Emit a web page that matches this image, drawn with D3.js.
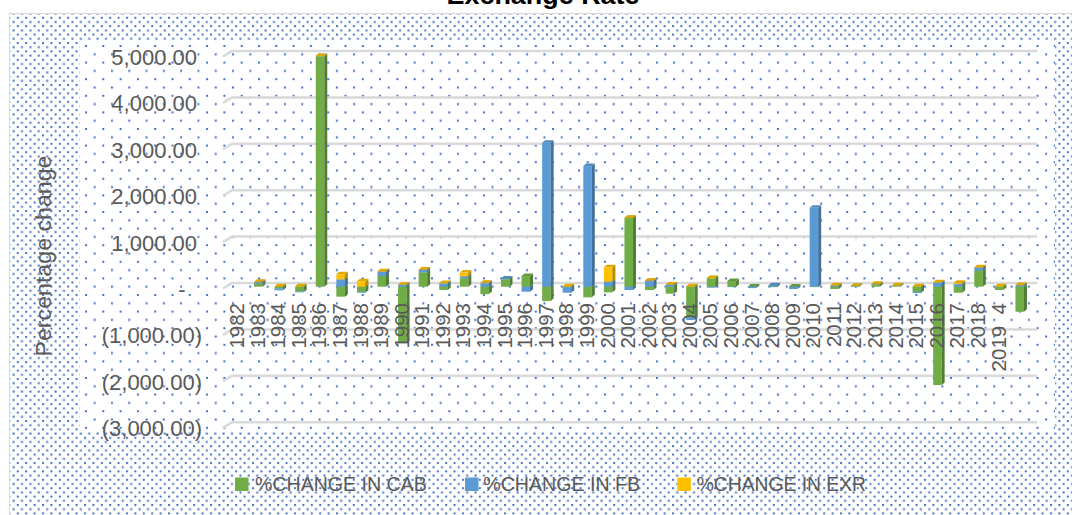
<!DOCTYPE html>
<html>
<head>
<meta charset="utf-8">
<script src="https://cdn.jsdelivr.net/npm/d3@7"></script>
<style>
  html, body { margin: 0; padding: 0; background: #fff; }
  svg { display: block; font-family: "Liberation Sans", Arial, sans-serif; }
</style>
</head>
<body>
<svg id="chart" width="1072" height="515"></svg>
<script>
// categories as printed under the bars (1982 is the base year, the last one has no label)
const categories = [
  "1982", "1983", "1984", "1985", "1986", "1987", "1988", "1989", "1990", "1991",
  "1992", "1993", "1994", "1995", "1996", "1997", "1998", "1999", "2000", "2001",
  "2002", "2003", "2004", "2005", "2006", "2007", "2008", "2009", "2010", "2011",
  "2012", "2013", "2014", "2015", "2016", "2017", "2018", "2019  4", ""
];

// percentage change
const cabChange = [
  0, 58, -35, -100, 4960, -215, -108, 230, -1220, 309,
  -70, 180, -160, 158, 230, -310, -10, -230, -122, 1480,
  -72, -150, -660, 180, 125, 5, -10, 5, -10, -50,
  10, 35, 15, -108, -2120, -130, 345, -72, -540
];
const fbChange = [
  0, 37, -43, -22, 5, 158, -22, 93, 36, 50,
  70, 40, 75, 20, -108, 3100, -120, 2600, 108, -72,
  122, 35, -57, -22, -5, -30, 30, -50, 1700, 20,
  5, 15, 10, -30, 86, 55, 65, 0, 30
];
const exrChange = [
  0, 10, 10, 8, 8, 108, 115, 10, 10, 10,
  12, 85, 10, 0, 0, 0, 12, 0, 310, 5,
  10, 10, 10, 10, 0, 0, 0, 0, 0, 10,
  8, 12, 8, 8, 10, 30, 10, 8, 8
];

const seriesKeys = ["cab", "fb", "exr"];
const seriesNames = ["%CHANGE IN CAB", "%CHANGE IN FB", "%CHANGE IN EXR"];
const seriesColors = ["#70AD47", "#5B9BD5", "#FFC000"];
const yTicks = [5000, 4000, 3000, 2000, 1000, 0, -1000, -2000, -3000];

const svg = d3.select("#chart");
const textColor = "#595959";
const gridColor = "#d9d9d9";
const dotColor = "#4472C4";

// --- background patterns (dense outside, sparse inside the plot area)
const defs = svg.append("defs");
const dense = defs.append("pattern").attr("id", "dense")
  .attr("patternUnits", "userSpaceOnUse").attr("width", 8.4).attr("height", 8.4);
dense.append("rect").attr("x", 0).attr("y", 0).attr("width", 2).attr("height", 2).attr("fill", dotColor);
dense.append("rect").attr("x", 4.2).attr("y", 4.2).attr("width", 2).attr("height", 2).attr("fill", dotColor);

const sparse = defs.append("pattern").attr("id", "sparse")
  .attr("patternUnits", "userSpaceOnUse").attr("width", 17.3).attr("height", 16.6)
  .attr("x", 85).attr("y", 45);
sparse.append("rect").attr("x", 0).attr("y", 0).attr("width", 2).attr("height", 2).attr("fill", dotColor);
sparse.append("rect").attr("x", 8.65).attr("y", 8.3).attr("width", 2).attr("height", 2).attr("fill", dotColor);

svg.append("rect")
  .attr("x", 9.5).attr("y", 13.5).attr("width", 1080).attr("height", 520)
  .attr("fill", "url(#dense)").attr("stroke", gridColor);
svg.append("rect")
  .attr("x", 80).attr("y", 42).attr("width", 975).attr("height", 390)
  .attr("fill", "#fff");
svg.append("rect")
  .attr("x", 80).attr("y", 42).attr("width", 975).attr("height", 390)
  .attr("fill", "url(#sparse)");

// title, mostly cut off by the top edge (as in the source picture)
svg.append("text")
  .attr("x", 543).attr("y", 4)
  .attr("text-anchor", "middle")
  .attr("font-size", 26).attr("font-weight", "bold")
  .attr("textLength", 193).attr("lengthAdjust", "spacingAndGlyphs")
  .attr("fill", "#000")
  .text("Exchange Rate");

// --- scales
const x = d3.scaleBand().domain(categories).range([226.4, 1029.0]).padding(0);
const y = d3.scaleLinear().domain([-3000, 5000]).range([427.7, 56.5]);
const yBar = d3.scaleLinear().domain(y.domain()).range(y.range().map(r => r - 1.8));

// --- back-wall gridlines with the little 3D slant on the left
const depthX = 9, depthY = 5.5;
svg.append("g").selectAll("path")
  .data(yTicks)
  .join("path")
  .attr("d", v => `M223,${y(v)}L${223 + depthX},${y(v) - depthY}L1037,${y(v) - depthY}`)
  .attr("fill", "none")
  .attr("stroke", gridColor)
  .attr("stroke-width", 2.5);

// --- y axis labels in accounting format
const num = d3.format(",.2f");
const yLabel = v => v === 0 ? "-" : v < 0 ? `(${num(-v)})` : num(v);
const yAxis = svg.append("g")
  .attr("transform", "translate(202,1)")
  .call(d3.axisLeft(y).tickValues(yTicks).tickFormat(yLabel).tickSize(0).tickPadding(0));
yAxis.select(".domain").remove();
yAxis.selectAll("text")
  .attr("font-family", "Liberation Sans, Arial, sans-serif")
  .attr("font-size", 22)
  .attr("fill", textColor)
  .attr("dx", v => v === 0 ? -16.5 : v > 0 ? -5 : 0);

svg.append("text")
  .attr("transform", "translate(51,256) rotate(-90)")
  .attr("text-anchor", "middle")
  .attr("font-size", 22)
  .attr("textLength", 201).attr("lengthAdjust", "spacingAndGlyphs")
  .attr("fill", textColor)
  .text("Percentage change");

// --- stacked 3D columns
const rows = categories.map((c, i) => ({ cat: c, cab: cabChange[i], fb: fbChange[i], exr: exrChange[i] }));
const stacked = d3.stack().keys(seriesKeys).offset(d3.stackOffsetDiverging)(rows);

const segments = [];
stacked.forEach((layer, k) => {
  layer.forEach((d, i) => {
    const v = rows[i][seriesKeys[k]];
    if (!v) return;
    segments.push({ i, k, cat: rows[i].cat, lo: Math.min(d[0], d[1]), hi: Math.max(d[0], d[1]), neg: v < 0 });
  });
});
// negatives from the far end inwards, then positives bottom-up, so nearer boxes cover hidden faces
segments.sort((a, b) => a.i - b.i || (a.neg === b.neg ? a.lo - b.lo : a.neg ? -1 : 1));

const barW = 8.5, sideX = 3, sideY = 2.5;
const bars = svg.append("g");
segments.forEach(s => {
  const c = d3.color(seriesColors[s.k]);
  const x0 = x(s.cat) + x.bandwidth() / 2 - barW / 2 + 1;
  const x1 = x0 + barW;
  const yTop = yBar(s.hi), yBot = yBar(s.lo);
  const g = bars.append("g");
  g.append("rect")
    .attr("x", x0).attr("y", yTop)
    .attr("width", barW).attr("height", Math.max(yBot - yTop, 0.4))
    .attr("fill", c.formatHex());
  g.append("path")
    .attr("d", `M${x1},${yTop}L${x1 + sideX},${yTop - sideY}L${x1 + sideX},${yBot - sideY}L${x1},${yBot}Z`)
    .attr("fill", c.darker(0.9).formatHex());
  g.append("path")
    .attr("d", `M${x0},${yTop}L${x0 + sideX},${yTop - sideY}L${x1 + sideX},${yTop - sideY}L${x1},${yTop}Z`)
    .attr("fill", c.darker(0.35).formatHex());
});

// --- category labels, rotated, hanging below the zero line
const xAxis = svg.append("g")
  .attr("transform", "translate(0,303)")
  .call(d3.axisBottom(x).tickSize(0));
xAxis.select(".domain").remove();
xAxis.selectAll("text")
  .attr("font-family", "Liberation Sans, Arial, sans-serif")
  .attr("font-size", 20.5)
  .attr("fill", textColor)
  .attr("x", 0).attr("y", 0).attr("dy", "0.36em")
  .attr("transform", "rotate(-90)")
  .style("text-anchor", "end")
  .style("white-space", "pre");

// --- legend
const legendSwatchX = [235, 465, 677.3];
const legendTextX = [255, 483.3, 696.7];
const legendTextW = [171.7, 156.7, 169.3];
const legend = svg.append("g");
seriesNames.forEach((name, k) => {
  legend.append("rect")
    .attr("x", legendSwatchX[k]).attr("y", 477.5)
    .attr("width", 13.5).attr("height", 13.5)
    .attr("fill", seriesColors[k]);
  legend.append("text")
    .attr("x", legendTextX[k]).attr("y", 491)
    .attr("font-size", 20)
    .attr("textLength", legendTextW[k]).attr("lengthAdjust", "spacingAndGlyphs")
    .attr("fill", textColor)
    .text(name);
});
</script>
</body>
</html>
